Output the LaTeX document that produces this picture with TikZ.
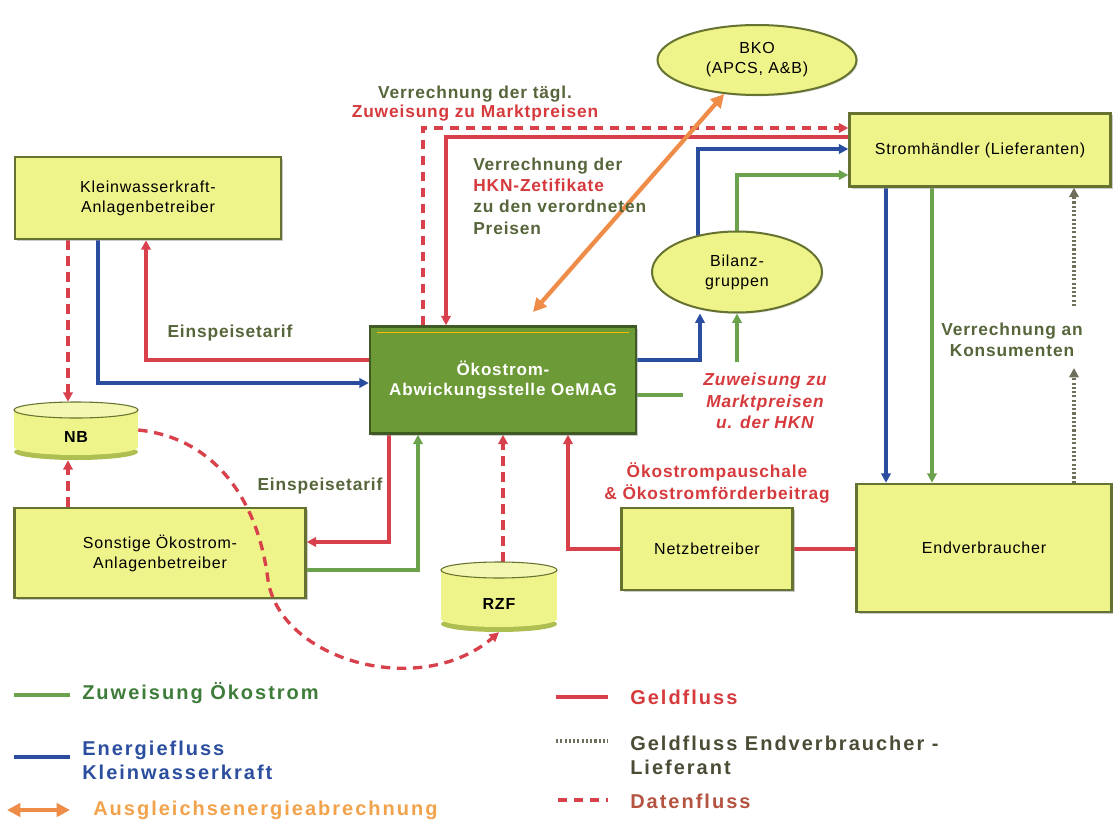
\documentclass[tikz,border=0pt]{standalone}
\usepackage{fontspec}
\setmainfont{Liberation Sans}
\newfontfamily\bxfont{Liberation Sans}[LetterSpace=5]
\newfontfamily\lgfont{Liberation Sans}[LetterSpace=10]
\usetikzlibrary{arrows.meta,shapes.geometric,calc,shadows}
\pgfdeclarelayer{bg}
\pgfdeclarelayer{paper}
\pgfsetlayers{paper,bg,main}
\definecolor{yfill}{HTML}{EEF38A}
\definecolor{boxedge}{HTML}{66722F}
\definecolor{ogfill}{HTML}{6C9A36}
\definecolor{ogedge}{HTML}{3F5A22}
\definecolor{lred}{HTML}{D8404C}
\definecolor{lblue}{HTML}{2A4DA0}
\definecolor{lgreen}{HTML}{6BA24C}
\definecolor{lorange}{HTML}{EF8C48}
\definecolor{ldot}{HTML}{6F6F5C}
\definecolor{tolive}{HTML}{56663A}
\definecolor{tred}{HTML}{D63A3C}
\definecolor{cyldark}{HTML}{AEBE50}
\definecolor{cyltop}{HTML}{F4F7B2}
\definecolor{lgtgreen}{HTML}{3E7C3A}
\definecolor{lgtblue}{HTML}{2C4E9E}
\definecolor{lgtorange}{HTML}{F2A24A}
\definecolor{lgtdark}{HTML}{4C4C36}
\definecolor{lgtbrown}{HTML}{B4533F}
\begin{document}
\begin{tikzpicture}[x=0.75pt,y=-0.75pt,
  arr/.style={-{Triangle[length=7pt,width=7pt]}},
  redl/.style={draw=lred,line width=2.5pt},
  bluel/.style={draw=lblue,line width=2.5pt},
  greenl/.style={draw=lgreen,line width=2.5pt},
  datal/.style={draw=lred,line width=2.5pt,dash pattern=on 7pt off 5pt},
  dotl/.style={draw=ldot,line width=2.5pt,dash pattern=on 1.6pt off 1.6pt},
  orangel/.style={draw=lorange,line width=3.2pt,{Triangle[length=10pt,width=10pt]}-{Triangle[length=10pt,width=10pt]}},
  box/.style={draw=boxedge,line width=1.8pt,fill=yfill,align=center,inner sep=0pt,
    drop shadow={shadow xshift=1.5pt,shadow yshift=-1.5pt,fill=black!40},
    font=\bxfont\fontsize{12}{15}\selectfont},
  ell/.style={ellipse,draw=boxedge,line width=1.5pt,fill=yfill,align=center,inner sep=0pt,
    drop shadow={shadow xshift=1pt,shadow yshift=-1pt,fill=black!30},
    font=\bxfont\fontsize{12}{15}\selectfont},
  lab/.style={align=center,inner sep=0pt,font=\bxfont\bfseries\fontsize{13}{16}\selectfont},
  leg/.style={anchor=west,align=left,inner sep=0pt,font=\lgfont\bfseries\fontsize{15}{18}\selectfont},
  cyltxt/.style={inner sep=0pt,font=\bxfont\bfseries\fontsize{12}{14}\selectfont},
]
\begin{pgfonlayer}{paper}
\path[use as bounding box,fill=white] (0,0) rectangle (1114,824);
\end{pgfonlayer}

% ---------- boxes ----------
\node[box,minimum width=199.5pt,minimum height=61.5pt] (kw) at (148,198) {Kleinwasserkraft-\\Anlagenbetreiber};
\node[box,minimum width=218.25pt,minimum height=67.5pt] (sonst) at (160,553) {Sonstige Ökostrom-\\Anlagenbetreiber};
\node[box,draw=ogedge,fill=ogfill,text=white,minimum width=199.5pt,minimum height=80.25pt,font=\bxfont\bfseries\fontsize{12.75}{15}\selectfont] (oemag) at (503,380) {Ökostrom-\\Abwickungsstelle OeMAG};
\node[ell,minimum width=149.25pt,minimum height=52.5pt] (bko) at (757,60) {BKO\\(APCS, A\&B)};
\node[box,minimum width=195.75pt,minimum height=54.75pt] (strom) at (980,150) {Stromhändler (Lieferanten)};
\node[ell,minimum width=127.5pt,minimum height=60.75pt] (bil) at (737,272) {Bilanz-\\gruppen};
\node[box,minimum width=128.25pt,minimum height=61.5pt] (netz) at (707,549) {Netzbetreiber};
\node[box,minimum width=191pt,minimum height=96pt] (endv) at (984,548) {Endverbraucher};
\draw[color=orange!55!yellow,line width=0.6pt] ($(oemag.north west)+(8,7)$) -- ($(oemag.north east)+(-8,7)$);

% ---------- cylinders ----------
\fill[cyldark] (76,452) ellipse[x radius=46.5pt,y radius=6pt];
\fill[yfill] (14,410) rectangle (138,447);
\fill[yfill] (76,447) ellipse[x radius=46.5pt,y radius=6pt];
\fill[cyltop] (76,410) ellipse[x radius=46.5pt,y radius=6pt];
\draw[boxedge,line width=0.8pt] (76,410) ellipse[x radius=46.5pt,y radius=6pt];
\node[inner sep=0pt,minimum width=93pt,minimum height=43.5pt] (nb) at (76,431) {};
\node[cyltxt] (nbt) at (76,437) {NB};

\fill[cyldark] (499,624) ellipse[x radius=43.5pt,y radius=6pt];
\fill[yfill] (441,570) rectangle (557,619);
\fill[yfill] (499,619) ellipse[x radius=43.5pt,y radius=6pt];
\fill[cyltop] (499,570) ellipse[x radius=43.5pt,y radius=6pt];
\draw[boxedge,line width=0.8pt] (499,570) ellipse[x radius=43.5pt,y radius=6pt];
\node[inner sep=0pt,minimum width=87pt,minimum height=52.5pt] (rzf) at (499,597) {};
\node[cyltxt] (rzft) at (499,604) {RZF};

% ---------- labels ----------
\node[lab,text=tolive] (l1) at (475,94) {Verrechnung der tägl.};
\node[lab,text=tred] (l2) at (475,113) {Zuweisung zu Marktpreisen};
\node[lab,anchor=west,align=left] (l3) at (473,196) {\textcolor{tolive}{Verrechnung der}\\\textcolor{tred}{HKN-Zetifikate}\\\textcolor{tolive}{zu den verordneten}\\\textcolor{tolive}{Preisen}};
\node[lab,text=tolive] (e1) at (230,333) {Einspeisetarif};
\node[lab,text=tolive] (e2) at (320,486) {Einspeisetarif};
\node[lab,text=tred,font=\bxfont\bfseries\itshape\fontsize{13}{16}\selectfont] (zm) at (765,401) {Zuweisung zu\\Marktpreisen\\u. der HKN};
\node[lab,text=tred] (op) at (717,483) {Ökostrompauschale\\\& Ökostromförderbeitrag};
\node[lab,text=tolive] (vk) at (1012,340) {Verrechnung an\\Konsumenten};

% ---------- connectors ----------
\coordinate (gz) at (737,362);
\coordinate (gs) at (683,395);
\coordinate (oa) at (533,312);
\coordinate (d1) at (1074,368);
\coordinate (d2) at (1074,306);
\begin{pgfonlayer}{bg}
\draw[datal,arr] (kw.south -| 68,0) -- (nb.north -| 68,0);
\draw[bluel,arr] (kw.south -| 98,0) |- (oemag.west |- 0,383);
\draw[redl,arr] (oemag.west |- 0,360) -| (kw.south -| 146,0);
\draw[datal,arr] (sonst.north -| 68,0) -- (nb.south -| 68,0);
\draw[redl,arr] (oemag.south -| 389,0) |- (sonst.east |- 0,542);
\draw[greenl,arr] (sonst.east |- 0,570) -| (oemag.south -| 418,0);
\draw[datal,arr] (rzf.north -| 503,0) -- (oemag.south -| 503,0);
\draw[redl,arr] (netz.west) -| (oemag.south -| 568,0);
\draw[redl] (endv.west |- netz.east) -- (netz.east);
\draw[bluel,arr] (oemag.east |- 0,360) -| (bil.south -| 700,0);
\draw[greenl,arr] (gz) -- (bil.south);
\draw[greenl] (oemag.east |- gs) -- (gs);
\draw[bluel,arr] (bil.center -| 698,0) |- (strom.west |- 0,149);
\draw[greenl,arr] (bil.center -| 737,0) |- (strom.west |- 0,175);
\draw[redl,arr] (strom.west |- 0,137) -| (oemag.north -| 446,0);
\draw[datal,arr] (oemag.north -| 423,0) |- (strom.west |- 0,128);
\draw[orangel] (oa) -- (bko.226);
\draw[bluel,arr] (strom.south -| 886,0) -- (endv.north -| 886,0);
\draw[greenl,arr] (strom.south -| 932,0) -- (endv.north -| 932,0);
\draw[dotl,arr] (endv.north -| d1) -- (d1);
\draw[dotl,arr] (d2) -- (strom.south -| d2);
\end{pgfonlayer}
\draw[datal,arr] (nb.east |- 0,430) .. controls (215,438) and (258,500) .. (268,580) .. controls (280,660) and (420,700) .. (rzf.south);

% ---------- legend ----------
\draw[greenl] (14,695) -- (70,695);
\node[leg,text=lgtgreen] (lg1) at (82,693) {Zuweisung Ökostrom};
\draw[bluel] (14,757) -- (70,757);
\node[leg,text=lgtblue] (lg2) at (82,760) {Energiefluss\\Kleinwasserkraft};
\draw[orangel] (7,810) -- (70,810);
\node[leg,text=lgtorange] (lg3) at (93,810) {Ausgleichsenergieabrechnung};
\draw[redl] (556,697) -- (608,697);
\node[leg,text=tred] (lg4) at (630,697) {Geldfluss};
\draw[dotl] (556,741) -- (608,741);
\node[leg,text=lgtdark] (lg5) at (630,755) {Geldfluss Endverbraucher -\\Lieferant};
\draw[datal] (558,800) -- (608,800);
\node[leg,text=lgtbrown] (lg6) at (630,801) {Datenfluss};
\end{tikzpicture}
\end{document}
